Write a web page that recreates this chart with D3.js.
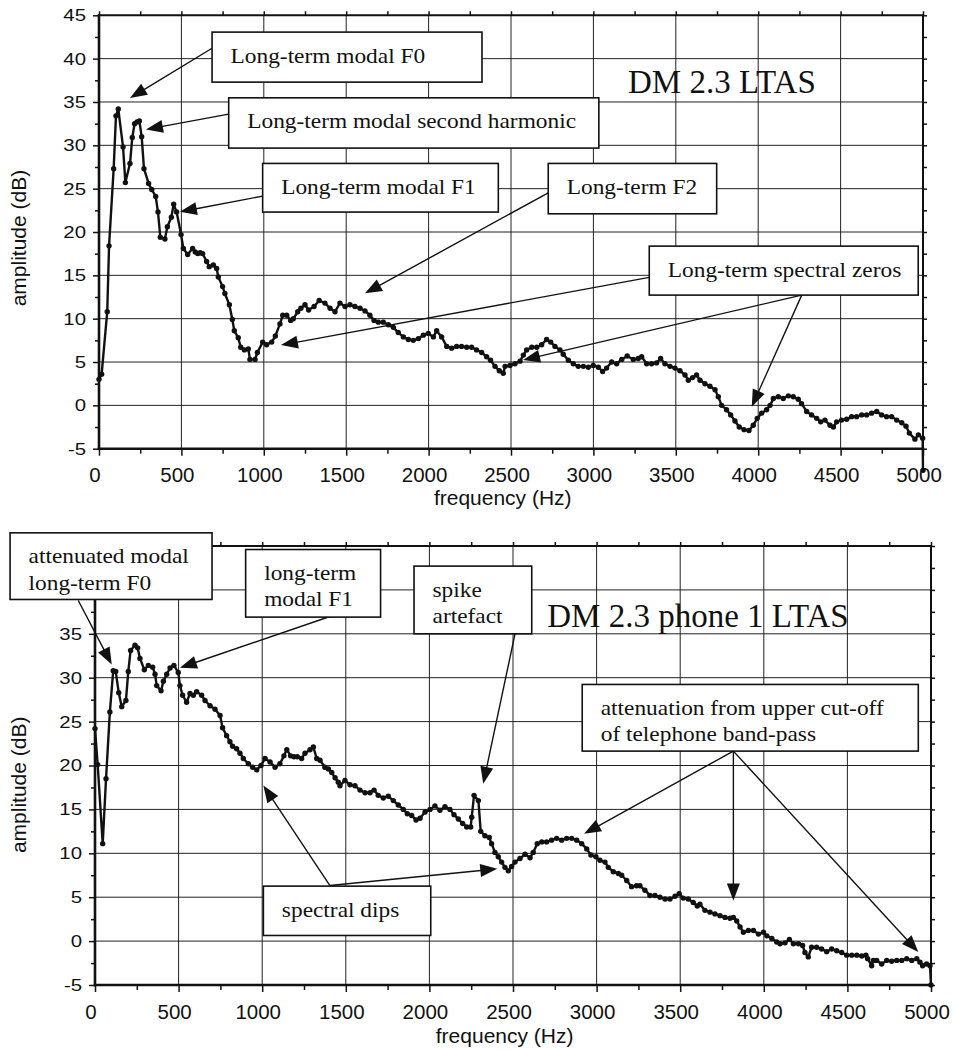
<!DOCTYPE html>
<html>
<head>
<meta charset="utf-8">
<script src="https://cdn.jsdelivr.net/npm/d3@7"></script>
<style>
  html, body { margin: 0; padding: 0; background: #fff; }
  svg { display: block; }
</style>
</head>
<body>
<svg id="chart" width="953" height="1050"></svg>
<script>
// ---- axis ticks ----
const freqTicks = [0, 500, 1000, 1500, 2000, 2500, 3000, 3500, 4000, 4500, 5000];
const ampTicks = [-5, 0, 5, 10, 15, 20, 25, 30, 35, 40, 45];
const ampLabelsTop = [-5, 0, 5, 10, 15, 20, 25, 30, 35, 40, 45];
const ampLabelsBot = [-5, 0, 5, 10, 15, 20, 25, 30, 35];

// ---- DM 2.3 LTAS (frequency in Hz, amplitude in dB) ----
const topFreq = [0,16,50,61,89,103,117,146,160,188,202,216,231,245,259,273,301,320,344,358,372,400,415,439,453,471,498,512,538,568,584,599,614,629,653,669,694,714,724,750,764,791,809,821,845,860,882,906,916,947,961,993,1017,1048,1070,1098,1115,1139,1163,1179,1206,1225,1250,1272,1305,1336,1371,1402,1432,1462,1493,1523,1553,1584,1614,1644,1669,1695,1725,1756,1786,1816,1847,1877,1907,1938,1968,1998,2029,2049,2079,2110,2140,2170,2200,2231,2261,2291,2322,2352,2376,2403,2429,2453,2464,2494,2524,2555,2575,2595,2626,2656,2686,2716,2741,2767,2797,2817,2848,2878,2908,2939,2969,2999,3030,3056,3080,3111,3141,3172,3205,3242,3272,3293,3323,3353,3383,3408,3434,3465,3495,3525,3556,3576,3602,3626,3647,3677,3707,3738,3758,3778,3808,3833,3859,3885,3914,3944,3970,3994,4021,4051,4072,4092,4122,4152,4183,4213,4243,4263,4294,4324,4355,4379,4405,4436,4456,4476,4506,4537,4567,4597,4628,4658,4688,4719,4749,4779,4810,4840,4871,4897,4917,4951,4972,4998,5000];
const topAmp = [3.0,3.6,10.8,18.4,27.3,33.4,34.2,29.8,25.7,27.9,30.9,32.5,32.7,32.8,31.0,27.3,25.6,24.9,24.1,22.3,19.4,19.2,20.6,21.7,23.2,22.3,19.7,18.1,17.4,18.1,17.7,17.5,17.6,17.5,16.6,16.0,16.2,15.8,14.8,13.7,12.9,11.6,9.9,8.6,7.8,6.7,6.4,6.5,5.3,5.3,6.1,7.3,7.0,7.3,8.0,9.4,10.4,10.4,9.8,10.0,10.8,11.2,11.6,11.0,11.4,12.1,11.8,11.2,10.8,11.8,11.4,11.6,11.4,11.2,10.9,10.4,9.8,9.6,9.6,9.3,9.0,8.4,7.9,7.6,7.5,7.7,8.1,8.3,7.9,8.6,7.9,6.8,6.6,6.8,6.8,6.7,6.7,6.4,6.1,5.6,5.2,4.5,4.0,3.7,4.5,4.6,4.8,5.1,5.8,6.4,6.7,6.7,7.0,7.6,7.3,6.8,6.4,5.9,5.2,4.8,4.5,4.5,4.4,4.6,4.4,3.9,4.3,5.0,4.8,5.3,5.7,5.3,5.4,5.6,4.8,4.8,4.9,5.4,4.8,4.5,4.3,4.0,3.5,2.9,3.2,3.5,2.9,2.5,2.2,1.8,1.0,0.0,-0.5,-1.1,-1.8,-2.5,-2.8,-2.9,-2.3,-1.5,-0.9,-0.5,0.0,0.8,1.0,0.8,1.1,1.0,0.7,0.2,-0.7,-1.1,-1.5,-1.9,-1.7,-2.3,-2.5,-1.9,-1.7,-1.6,-1.3,-1.3,-1.1,-1.1,-0.9,-0.7,-1.1,-1.3,-1.3,-1.7,-2.0,-2.4,-3.2,-3.9,-3.4,-3.8,-7.5];

// ---- DM 2.3 phone 1 LTAS ----
const botFreq = [0,16,46,66,89,109,124,142,160,185,199,213,239,255,269,295,319,345,359,369,395,409,429,449,472,498,508,524,548,568,588,608,638,658,688,718,748,763,787,807,823,847,867,887,917,943,967,993,1017,1047,1077,1106,1130,1147,1170,1190,1210,1236,1256,1286,1306,1326,1346,1375,1396,1416,1436,1455,1465,1495,1525,1555,1585,1615,1645,1669,1694,1724,1754,1784,1814,1844,1868,1894,1920,1944,1974,2004,2033,2063,2093,2123,2147,2173,2199,2223,2247,2253,2267,2293,2307,2332,2358,2372,2392,2412,2432,2452,2472,2492,2512,2542,2572,2602,2621,2645,2672,2701,2731,2761,2791,2821,2851,2881,2911,2941,2966,2996,3020,3050,3070,3100,3130,3150,3180,3209,3239,3259,3289,3319,3349,3379,3409,3439,3469,3494,3518,3548,3578,3602,3618,3648,3678,3708,3738,3768,3798,3818,3838,3858,3878,3908,3938,3968,3998,4018,4048,4077,4097,4127,4153,4177,4207,4232,4246,4266,4286,4316,4346,4376,4406,4436,4466,4496,4526,4556,4586,4611,4621,4645,4655,4675,4705,4735,4765,4795,4825,4855,4885,4915,4934,4950,4974,4994,5000];
const botAmp = [24.2,20.1,11.1,18.5,26.1,30.8,30.7,28.3,26.7,27.4,30.7,33.1,33.7,33.4,32.2,30.9,31.4,31.2,30.4,29.1,28.5,29.6,30.4,31.1,31.4,30.6,29.1,28.0,27.2,28.2,28.0,28.4,28.0,27.4,26.8,26.4,25.7,24.3,23.4,22.7,22.2,21.9,21.4,20.8,20.2,19.8,19.5,20.0,20.8,20.4,19.8,20.2,21.1,21.8,21.1,21.0,21.0,20.8,21.4,21.8,22.1,20.8,20.6,19.8,19.6,19.2,18.6,18.1,17.7,18.3,17.8,17.7,17.2,16.9,16.9,17.2,16.6,16.3,16.5,16.0,15.5,15.0,14.5,14.3,13.8,14.0,14.7,15.0,15.4,14.9,15.3,15.0,14.4,13.9,13.4,13.0,13.0,14.1,16.6,16.0,12.5,12.0,11.8,11.1,10.1,9.6,9.0,8.4,8.0,8.5,9.0,9.4,9.9,9.5,10.1,11.1,11.3,11.3,11.5,11.7,11.5,11.7,11.7,11.5,11.1,10.5,9.8,9.6,9.2,9.0,8.4,7.9,7.7,7.5,6.9,6.2,6.3,6.3,5.8,5.2,5.2,5.0,4.8,4.8,5.1,5.4,4.9,4.8,4.4,4.0,4.2,3.5,3.3,3.1,2.9,2.7,2.6,2.7,2.3,1.6,1.0,1.2,1.2,0.8,1.0,0.6,0.3,-0.1,-0.3,-0.2,0.2,-0.3,-0.3,-0.5,-1.3,-1.8,-0.7,-0.7,-0.9,-1.2,-0.9,-1.1,-1.3,-1.6,-1.6,-1.6,-1.7,-1.6,-2.0,-2.8,-2.2,-2.2,-2.6,-2.2,-2.3,-2.2,-2.2,-2.0,-2.2,-2.0,-2.4,-2.8,-2.6,-2.8,-5.0];

const topTitle = "DM 2.3 LTAS";
const botTitle = "DM 2.3 phone 1 LTAS";
const xAxisTitle = "frequency (Hz)";
const yAxisTitle = "amplitude (dB)";

// Callouts, placed in data units: box = [f0, dB top, f1, dB bottom],
// arrows = [[from f, from dB, to f, to dB], ...]
const topNotes = [
  { lines: ["Long-term modal F0"], box: [686, 43.06, 2324, 37.29], arrows: [[686, 41.2, 188, 35.45]] },
  { lines: ["Long-term modal second harmonic"], box: [787, 35.48, 3033, 29.68], arrows: [[787, 33.6, 285, 31.83]] },
  { lines: ["Long-term modal F1"], box: [993, 27.91, 2423, 22.30], arrows: [[993, 24.14, 491, 22.33]] },
  { lines: ["Long-term F2"], box: [2726, 27.91, 3748, 22.10], arrows: [[2726, 24.52, 1614, 12.92]] },
  { lines: ["Long-term spectral zeros"], box: [3339, 18.37, 4971, 12.72],
    arrows: [[3339, 14.76, 1104, 6.95], [4264, 12.72, 2573, 5.22], [4264, 12.72, 3961, -0.16]] }
];
const botNotes = [
  { lines: ["attenuated modal", "long-term F0"], box: [-508, 46.5, 700, 38.91], arrows: [[-100, 38.79, 100, 31.5]] },
  { lines: ["long-term", "modal F1"], box: [901, 44.6, 1708, 36.9], arrows: [[1405, 36.97, 508, 31.13]] },
  { lines: ["spike", "artefact"], box: [1908, 42.71, 2612, 35.0], arrows: [[2512, 35.0, 2322, 17.92]] },
  { lines: ["attenuation from upper cut-off", "of telephone band-pass"], box: [2914, 29.23, 4924, 21.64],
    arrows: [[3818, 21.64, 2925, 12.22], [3818, 21.64, 3818, 4.62], [3818, 21.64, 4924, -1.25]] },
  { lines: ["spectral dips"], box: [1007, 6.26, 2008, 0.64],
    arrows: [[1405, 6.33, 1007, 17.72], [1405, 6.33, 2406, 8.23]] }
];

const panels = [
  { freq: topFreq, amp: topAmp, title: topTitle, titleAt: [3210, 36.0], notes: topNotes, ampLabels: ampLabelsTop,
    left: 99, right: 923, top: 15.3, bottom: 448.7, xTitleY: 505, yTitleV: 19.3 },
  { freq: botFreq, amp: botAmp, title: botTitle, titleAt: [2705, 35.76], notes: botNotes, ampLabels: ampLabelsBot,
    left: 95, right: 931, top: 546, bottom: 985, xTitleY: 1043, yTitleV: 17.8 }
];

const svg = d3.select("#chart");
const SANS = "'Liberation Sans', Arial, sans-serif";
const SERIF = "'Liberation Serif', 'Times New Roman', serif";
const STRETCH = 1.2;      // tick label width factor
const NOTE_STRETCH = 1.14; // callout text width factor
const plain = d => String(d);

function drawArrow(g, x1, y1, x2, y2) {
  const dx = x2 - x1, dy = y2 - y1, len = Math.hypot(dx, dy);
  const ux = dx / len, uy = dy / len;
  const L = 17, hw = 6.5;
  const bx = x2 - ux * L, by = y2 - uy * L;
  g.append("line")
    .attr("x1", x1).attr("y1", y1).attr("x2", bx + ux * 3).attr("y2", by + uy * 3)
    .attr("stroke", "#111").attr("stroke-width", 1.4);
  g.append("path")
    .attr("d", `M${x2},${y2}L${bx - uy * hw},${by + ux * hw}L${bx + uy * hw},${by - ux * hw}Z`)
    .attr("fill", "#111");
}

panels.forEach(p => {
  const x = d3.scaleLinear().domain([0, 5000]).range([p.left, p.right]);
  const y = d3.scaleLinear().domain([-5, 45]).range([p.bottom, p.top]);
  const g = svg.append("g");

  // grid
  g.append("g").selectAll("line").data(freqTicks.slice(1, -1)).join("line")
    .attr("x1", d => x(d)).attr("x2", d => x(d)).attr("y1", y(-5)).attr("y2", y(45))
    .attr("stroke", "#222").attr("stroke-width", 1);
  g.append("g").selectAll("line").data(ampTicks.slice(1, -1)).join("line")
    .attr("y1", d => y(d)).attr("y2", d => y(d)).attr("x1", x(0)).attr("x2", x(5000))
    .attr("stroke", "#222").attr("stroke-width", 1);

  const minorF = d3.range(250, 5000, 500);
  const minorA = d3.range(-2.5, 45, 5);
  const allF = d3.range(0, 5001, 250);
  const allA = d3.range(-5, 45.1, 2.5);

  // bottom axis
  const bAx = g.append("g").attr("transform", `translate(0,${p.bottom})`)
    .call(d3.axisBottom(x).tickValues(freqTicks).tickFormat(plain).tickSize(7).tickPadding(12));
  bAx.append("g").call(d3.axisBottom(x).tickValues(minorF).tickSize(5).tickFormat(""));
  // left axis: ticks at every 5 dB, labels where shown
  const lAx = g.append("g").attr("transform", `translate(${p.left},0)`);
  lAx.append("g").call(d3.axisLeft(y).tickValues(ampTicks).tickSize(6).tickFormat(""));
  const lLab = lAx.append("g").call(d3.axisLeft(y).tickValues(p.ampLabels).tickFormat(plain).tickSize(0).tickPadding(13));
  lAx.append("g").call(d3.axisLeft(y).tickValues(minorA).tickSize(4).tickFormat(""));
  // top and right axes: ticks only
  g.append("g").attr("transform", `translate(0,${p.top})`)
    .call(d3.axisTop(x).tickValues(allF).tickSize(4).tickFormat(""));
  g.append("g").attr("transform", `translate(${p.right},0)`)
    .call(d3.axisRight(y).tickValues(allA).tickSize(4).tickFormat(""));

  g.selectAll(".domain").remove();
  g.selectAll(".tick line").attr("stroke", "#111").attr("stroke-width", 1.5);
  bAx.selectAll("text").attr("font-family", SANS).attr("font-size", 20.5).attr("fill", "#111").attr("dx", -4.5);
  lLab.selectAll("text").attr("font-family", SANS).attr("font-size", 17).attr("fill", "#111")
    .attr("x", -13 / STRETCH).attr("transform", `scale(${STRETCH},1)`);

  // frame
  const frame = g.append("g").attr("stroke", "#111").attr("stroke-linecap", "square");
  frame.append("line").attr("x1", p.left).attr("x2", p.right).attr("y1", p.top).attr("y2", p.top).attr("stroke-width", 2);
  frame.append("line").attr("x1", p.right).attr("x2", p.right).attr("y1", p.top).attr("y2", p.bottom).attr("stroke-width", 2);
  frame.append("line").attr("x1", p.left).attr("x2", p.right).attr("y1", p.bottom).attr("y2", p.bottom).attr("stroke-width", 2.6);
  frame.append("line").attr("x1", p.left).attr("x2", p.left).attr("y1", p.top).attr("y2", p.bottom).attr("stroke-width", 2.6);

  // axis titles
  g.append("text").attr("x", x(2450)).attr("y", p.xTitleY).attr("text-anchor", "middle")
    .attr("font-family", SANS).attr("font-size", 21).attr("fill", "#111").text(xAxisTitle);
  g.append("text").attr("transform", `translate(26,${y(p.yTitleV)}) rotate(-90)`).attr("text-anchor", "middle")
    .attr("font-family", SANS).attr("font-size", 21).attr("fill", "#111").text(yAxisTitle);

  // spectrum
  const pts = p.freq.map((f, i) => [f, p.amp[i]]);
  g.append("path").datum(pts)
    .attr("d", d3.line().x(d => x(d[0])).y(d => y(d[1])))
    .attr("fill", "none").attr("stroke", "#111").attr("stroke-width", 2.4).attr("stroke-linejoin", "round");
  g.append("g").selectAll("circle").data(pts).join("circle")
    .attr("cx", d => x(d[0])).attr("cy", d => y(d[1])).attr("r", 2.7).attr("fill", "#111");

  // panel title
  g.append("text").attr("x", x(p.titleAt[0])).attr("y", y(p.titleAt[1]))
    .attr("font-family", SERIF).attr("font-size", 33).attr("fill", "#111").text(p.title);

  // callouts
  const notes = g.append("g");
  p.notes.forEach(n => n.arrows.forEach(a => drawArrow(notes, x(a[0]), y(a[1]), x(a[2]), y(a[3]))));
  p.notes.forEach(n => {
    const bx0 = x(n.box[0]), by0 = y(n.box[1]), bx1 = x(n.box[2]), by1 = y(n.box[3]);
    notes.append("rect").attr("x", bx0).attr("y", by0).attr("width", bx1 - bx0).attr("height", by1 - by0)
      .attr("fill", "#fff").attr("stroke", "#111").attr("stroke-width", 1.6);
    n.lines.forEach((t, i) => {
      notes.append("text")
        .attr("transform", `translate(${bx0 + 18.5},${by0 + 30.5 + i * 26.3}) scale(${NOTE_STRETCH},1)`)
        .attr("font-family", SERIF).attr("font-size", 20.5).attr("fill", "#111").text(t);
    });
  });
});
</script>
</body>
</html>
